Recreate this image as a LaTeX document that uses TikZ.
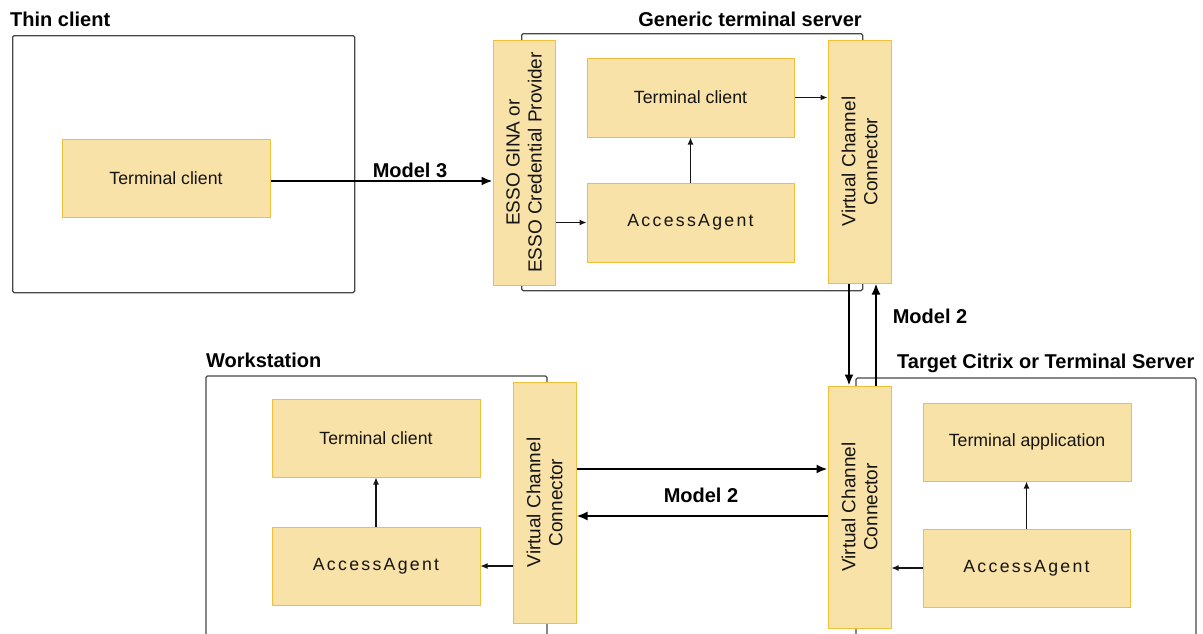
\documentclass[tikz,border=0pt]{standalone}
\usepackage{fontspec}
\setmainfont{Liberation Sans}
\usetikzlibrary{arrows.meta}
\definecolor{boxfill}{HTML}{F9E2A8}
\definecolor{boxline}{HTML}{F2BF3A}
\definecolor{frameline}{HTML}{474747}
\definecolor{ink}{HTML}{141414}
\begin{document}
\begin{tikzpicture}[x=1pt,y=-1pt,
  box/.style={draw=boxline, fill=boxfill, line width=1pt, inner sep=0pt,
    text=ink, font=\fontsize{17.7}{21}\selectfont},
  rot/.style={rotate=90, align=center, text=ink, inner sep=0pt,
    font=\fontsize{19}{22}\selectfont},
  frame/.style={draw=frameline, line width=1.3pt, rounded corners=1.5pt},
  title/.style={font=\bfseries\fontsize{20}{23}\selectfont, inner sep=0pt, text=black},
  small/.style={-{Latex[length=7pt,width=6pt]}, line width=1.1pt, draw=ink},
  big/.style={-{Latex[length=11pt,width=9pt]}, line width=2pt, draw=black}
]
\useasboundingbox (0,0) rectangle (1203,633);

% Thin client
\node[frame, minimum width=342pt, minimum height=257pt, anchor=north west] (thinbox) at (12,35) {};
\node[title, anchor=west] (thintitle) at (10,19) {Thin client};
\node[box, minimum width=208pt, minimum height=78pt] (tcT) at (166,178) {Terminal client};

% Generic terminal server
\node[frame, minimum width=341pt, minimum height=257pt, anchor=north west] (genbox) at (521,33) {};
\node[title, anchor=east] (gentitle) at (862,19) {Generic terminal server};
\node[box, minimum width=62pt, minimum height=245pt] (esso) at (524,162.5) {};
\node[rot] (essolabel) at (esso.center) {ESSO GINA or\\ESSO Credential Provider};
\node[box, minimum width=207pt, minimum height=79pt] (tcG) at (690.5,97.5) {Terminal client};
\node[box, minimum width=207pt, minimum height=79pt] (aaG) at (690.5,222.5) {\addfontfeature{LetterSpace=13}AccessAgent};
\node[box, minimum width=63pt, minimum height=243pt] (vccT) at (859.5,161.5) {};
\node[rot] (vccTlabel) at (vccT.center) {Virtual Channel\\Connector};

% Target Citrix or Terminal Server
\draw[frame] (856,640) -- (856,378) -- (1196,378) -- (1196,640);
\node[title, anchor=west] (tgttitle) at (897,363) {Target Citrix or Terminal Server};
\node[box, minimum width=63pt, minimum height=242pt] (vccB) at (859.5,507) {};
\node[rot] (vccBlabel) at (vccB.center) {Virtual Channel\\Connector};
\node[box, minimum width=208pt, minimum height=78pt] (ta) at (1027,442) {Terminal application};
\node[box, minimum width=207pt, minimum height=78pt] (aaB) at (1026.5,568) {\addfontfeature{LetterSpace=13}AccessAgent};

% Workstation
\draw[frame] (206,640) -- (206,376) -- (547,376) -- (547,640);
\node[title, anchor=west] (wstitle) at (206,360) {Workstation};
\node[box, minimum width=208pt, minimum height=78pt] (tcW) at (376,438) {Terminal client};
\node[box, minimum width=208pt, minimum height=78pt] (aaW) at (376,566) {\addfontfeature{LetterSpace=13}AccessAgent};
\node[box, minimum width=63pt, minimum height=241pt] (vccW) at (544.5,502.5) {};
\node[rot] (vccWlabel) at (vccW.center) {Virtual Channel\\Connector};

% Model 3: thin client to the terminal server logon
\draw[big] ([yshift=-3pt]tcT.east) -- ([yshift=-3pt]tcT.east -| esso.west);
\node[title] (m3) at (410,170) {Model 3};

% Inside the generic terminal server
\draw[small] (aaG.west -| esso.east) -- (aaG.west);
\draw[small] (aaG.north) -- (tcG.south);
\draw[small] (tcG.east) -- (tcG.east -| vccT.west);

% Model 2: generic server and target server
\draw[big] ([xshift=-10.5pt]vccT.south) -- ([xshift=-10.5pt]vccB.north);
\draw[big] ([xshift=16.5pt]vccB.north) -- ([xshift=16.5pt]vccT.south);
\node[title] (m2a) at (930,316) {Model 2};

% Inside the target server
\draw[small] (aaB.west) -- (aaB.west -| vccB.east);
\draw[small] (aaB.north) -- (aaB.north |- ta.south);

% Model 2: workstation and target server
\draw[big] ([yshift=33.5pt]vccW.east) -- ([yshift=33.5pt]vccW.east -| vccB.west);
\draw[big] ([yshift=-13.5pt]vccW.east -| vccB.west) -- ([yshift=-13.5pt]vccW.east);
\node[title] (m2b) at (701,495) {Model 2};

% Inside the workstation
\draw[small] (aaW.east -| vccW.west) -- (aaW.east);
\draw[small] (aaW.north) -- (tcW.south);
\end{tikzpicture}
\end{document}
